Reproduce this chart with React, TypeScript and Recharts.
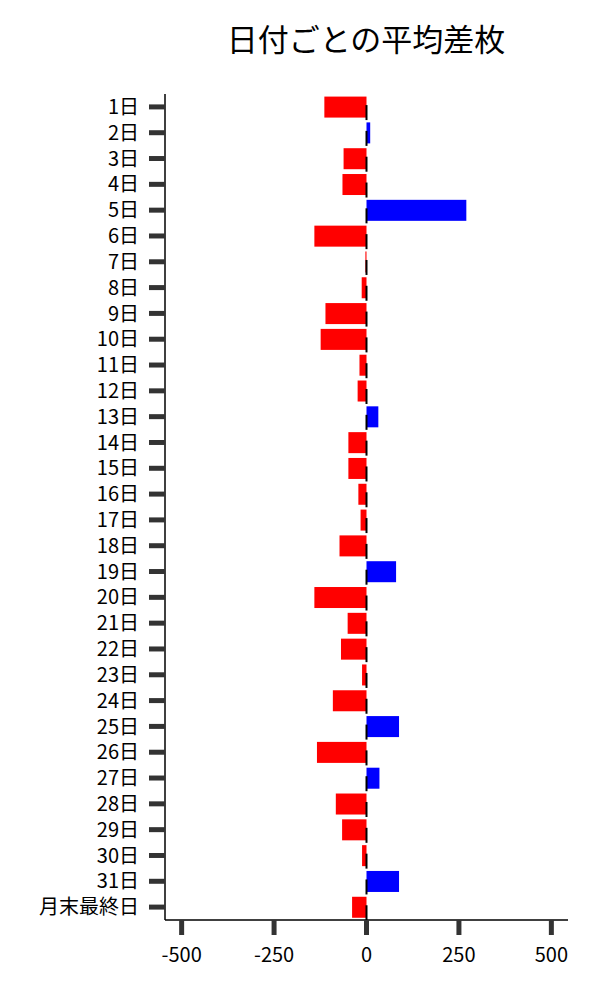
import { BarChart, Bar, XAxis, YAxis, Cell } from "recharts";

const days: string[] = [
  "1日", "2日", "3日", "4日", "5日", "6日", "7日", "8日", "9日", "10日",
  "11日", "12日", "13日", "14日", "15日", "16日", "17日", "18日", "19日", "20日",
  "21日", "22日", "23日", "24日", "25日", "26日", "27日", "28日", "29日", "30日",
  "31日", "月末最終日",
];

const avgDiff: number[] = [
  -114, 10, -62, -65, 270, -141, -3, -13, -111, -124,
  -19, -24, 32, -49, -49, -22, -16, -73, 80, -141,
  -51, -69, -12, -91, 88, -134, 35, -83, -66, -12,
  88, -39,
];

const xTicks: number[] = [-500, -250, 0, 250, 500];

const data = days.map((name, i) => ({ name, value: avgDiff[i] }));

const font = "'Noto Sans CJK JP', 'Noto Sans', sans-serif";

const BarWithMark = (props: any) => {
  const { x, y, width, height, fill, value } = props;
  const left = Math.min(x, x + width);
  const right = Math.max(x, x + width);
  const w = right - left;
  const zero = value < 0 ? right : left;
  const cy = y + height / 2;
  return (
    <g>
      <rect x={left} y={y} width={w} height={height} fill={fill} />
      <line x1={zero} x2={zero} y1={cy - 2} y2={cy + 13} stroke="#000" strokeWidth={2} />
    </g>
  );
};

export default function App() {
  return (
    <div style={{ position: "absolute", left: 0, top: 0, fontFamily: font }}>
      <BarChart
        width={600}
        height={1000}
        data={data}
        layout="vertical"
        margin={{ top: 94, right: 32, bottom: 20, left: 0 }}
        barCategoryGap="10%"
      >
        <text x={366} y={43} textAnchor="middle" dominantBaseline="middle" fontSize={31} fontFamily={font} fill="#000">
          日付ごとの平均差枚
        </text>
        <XAxis
          type="number"
          domain={[-545, 545]}
          ticks={xTicks}
          height={60}
          axisLine={{ stroke: "#000", strokeWidth: 1.5 }}
          tickLine={{ stroke: "#333", strokeWidth: 5 }}
          tickSize={15}
          tickMargin={13}
          tick={{ fill: "#000", fontSize: 20, fontFamily: font }}
        />
        <YAxis
          type="category"
          dataKey="name"
          width={165}
          interval={0}
          axisLine={{ stroke: "#000", strokeWidth: 1.5 }}
          tickLine={{ stroke: "#333", strokeWidth: 5 }}
          tickSize={16}
          tickMargin={10}
          tick={{ fill: "#000", fontSize: 20, fontFamily: font }}
        />
        <Bar dataKey="value" isAnimationActive={false} shape={BarWithMark}>
          {data.map((d, i) => (
            <Cell key={i} fill={d.value < 0 ? "#ff0000" : "#0000ff"} />
          ))}
        </Bar>
      </BarChart>
    </div>
  );
}
